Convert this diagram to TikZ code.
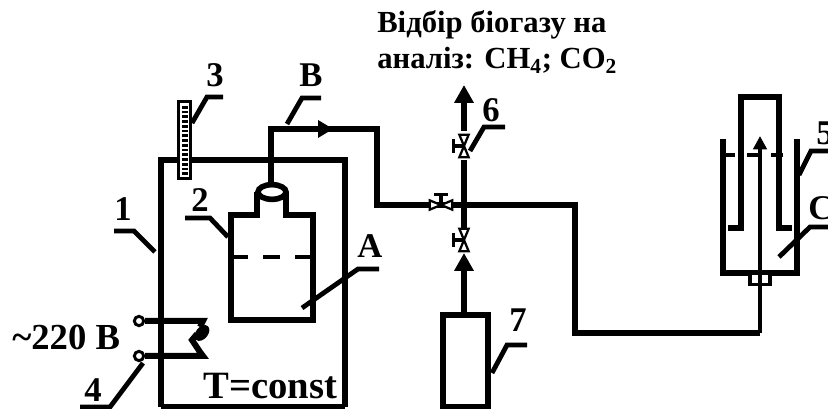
\documentclass[tikz,border=0pt]{standalone}
\usepackage{fontspec}
\setmainfont{Liberation Serif}
\usepackage{tikz}
\usetikzlibrary{arrows.meta,positioning,calc,shapes.geometric}

\tikzset{
    wall/.style={line width=4.5pt, line cap=butt, line join=miter},
    leader/.style={line width=3.6pt, line join=miter},
    thinwall/.style={line width=3.4pt, line join=miter},
    tag/.style={font=\bfseries\fontsize{26}{26}\selectfont, inner sep=0pt, anchor=base},
    bigtag/.style={font=\bfseries\fontsize{29}{29}\selectfont, inner sep=0pt, anchor=base west},
    caption/.style={font=\bfseries\fontsize{23}{26}\selectfont, inner sep=0pt, anchor=base west},
    flow/.style={line width=4.5pt, -{Triangle[length=13.5pt, width=14pt]}},
    contact/.style={draw, circle, line width=2.2pt, fill=white, minimum size=7pt, inner sep=0pt}
}
% one valve: two small triangles with a handle
\tikzset{
    valve/.pic={
      \draw[line width=1.7pt, fill=white, line join=miter] (-8.5pt,-3.5pt) -- (8.5pt,3.5pt) -- (8.5pt,-3.5pt) -- (-8.5pt,3.5pt) -- cycle;
      \draw[line width=2.4pt] (0,0) -- (0,8pt);
      \draw[line width=2.4pt] (-5pt,8pt) -- (5pt,8pt);
    }
}

\begin{document}
\begin{tikzpicture}[x=0.75pt, y=-0.75pt]
    \clip (0,0) rectangle (828,409);
    \useasboundingbox (0,0) rectangle (828,409);

    % thermostat
    \coordinate (t1) at (161,407);
    \coordinate (t2) at (161,160);
    \coordinate (t3) at (345,160);
    \coordinate (t4) at (345,407);
    \draw[wall] (t1) -- (t2) -- (t3) -- (t4);
    \draw[wall] (t1) -- (t4);
    \node[tag] (l1) at (123,221) {1};
    \node[bigtag] (ltc) at (203,398) {T=const};

    % reactor
    \coordinate (r1) at (257,215);
    \coordinate (r2) at (231,215);
    \coordinate (r3) at (231,320);
    \coordinate (r4) at (313,320);
    \coordinate (r5) at (313,215);
    \coordinate (r6) at (286,215);
    \coordinate (r7) at (257,192);
    \coordinate (r8) at (286,192);
    \coordinate (s1) at (231,257);
    \coordinate (s2) at (313,257);
    \draw[wall] (r7) -- (r1) -- (r2) -- (r3) -- (r4) -- (r5) -- (r6) -- (r8);
    \draw[thinwall, dash pattern=on 12.75pt off 11.25pt] (s1) -- (s2);
    \node[draw, ellipse, line width=4.2pt, fill=white, minimum width=21pt, minimum height=11pt, inner sep=0pt] (neck) at (272,192) {};
    \node[tag] (l2) at (200,212) {2};
    \node[tag] (lA) at (370,258) {А};

    % gas line
    \coordinate (p1) at (271,129);
    \coordinate (p2) at (377,129);
    \coordinate (p3) at (377,205);
    \coordinate (p4) at (575,205);
    \coordinate (p5) at (575,333);
    \coordinate (p6) at (760,333);
    \draw[wall] (neck.north -| p1) -- (p1) -- (p2) -- (p3) -- (p4) -- (p5) -- (p6);
    \fill (318,120) -- (333,129) -- (318,138) -- cycle;
    \node[tag] (lB) at (311,87) {В};

    % thermometer
    \node[draw, line width=1.8pt, fill=white, minimum width=9pt, minimum height=58pt, inner sep=0pt] (therm) at (184.5,140) {};
    \foreach \i in {0,...,14}
      \fill (181.5,{106+\i*4.75}) rectangle (187.5,{108.6+\i*4.75});
    \node[tag] (l3) at (215,87) {3};

    % heater with contact
    \node[contact] (c1) at (139,321) {};
    \node[contact] (c2) at (139,356) {};
    \coordinate (h1) at (203,321);
    \coordinate (h2) at (203,356);
    \draw[wall] (c1) -- (h1) -- ++(-3,6);
    \draw[wall] (c2) -- (h2) -- ++(-3,-4) -- ++(-8,-12) -- ++(5,-6);
    \fill[rotate around={50:(202,333)}] (202,333) ellipse (9 and 6);
    \node[bigtag, font=\bfseries\fontsize{27.5}{28}\selectfont] (l220) at (12,350) {\textasciitilde 220 В};
    \node[tag] (l4) at (93,402) {4};

    % sampling branch
    \coordinate (j) at (464,205);
    \coordinate (top) at (464,85);
    \coordinate (v6a) at (464,131);
    \coordinate (v6b) at (464,160);
    \coordinate (v7a) at (464,228);
    \draw[flow] (v6a) -- (top);
    \draw[wall] (v6b) -- (j) -- (v7a);
    \pic[rotate=90] at (464,146) {valve};
    \pic at (441,205) {valve};
    \pic[rotate=90] at (464,240) {valve};
    \node[tag] (l6) at (491,122) {6};
    \node[caption] (lhead) at (377,33) {Відбір біогазу на};
    \node[caption] (lhead2) at (377,69) {аналіз: CH\textsubscript{4}; CO\textsubscript{2}};

    % gas cylinder
    \node[draw, line width=4.5pt, minimum width=34pt, minimum height=69pt, inner sep=0pt] (cyl) at (465.5,361) {};
    \coordinate (v7top) at (464,253);
    \draw[flow] (cyl.north -| v7top) -- (v7top);
    \node[tag] (l7) at (518,332) {7};

    % gas holder
    \coordinate (g1) at (723,139);
    \coordinate (g2) at (723,273);
    \coordinate (g3) at (797,273);
    \coordinate (g4) at (797,139);
    \coordinate (g5) at (723,155);
    \coordinate (g6) at (797,155);
    \draw[wall] (g1) -- (g2) -- (g3) -- (g4);
    \draw[line width=2.5pt, dash pattern=on 9pt off 9pt] (g5) -- (g6);
    \coordinate (b1) at (728,228);
    \coordinate (b2) at (741,228);
    \coordinate (b3) at (741,97);
    \coordinate (b4) at (779,97);
    \coordinate (b5) at (779,228);
    \coordinate (b6) at (792,228);
    \draw[wall] (b1) -- (b2) -- (b3) -- (b4) -- (b5) -- (b6);
    \node[draw, line width=2.5pt, fill=white, minimum width=15pt, minimum height=8pt, inner sep=0pt] (fit) at (760,279) {};
    \coordinate (tip) at (760,136);
    \draw[line width=3pt, -{Triangle[length=10pt, width=10pt]}] (p6) -- (tip);
    \node[tag, anchor=base west] (l5) at (816,145) {5};
    \node[tag, anchor=base west] (lC) at (808,220) {С};

    % leaders
    \draw[leader] (114,231) -- (134,231) -- (155,252);
    \draw[leader] (185,218) -- (210,218) -- (228,237);
    \draw[leader] (192,123) -- (207,97) -- (223,97);
    \draw[leader] (287,124) -- (302,98) -- (321,98);
    \draw[leader] (302,308) -- (358,269) -- (379,269);
    \draw[leader] (143,363) -- (110,407) -- (80,407);
    \draw[leader] (470,151) -- (484,127) -- (505,127);
    \draw[leader] (492,373) -- (507,345) -- (527,345);
    \draw[leader] (799,175) -- (811,151) -- (828,151);
    \draw[leader] (779,257) -- (810,227) -- (828,227);
\end{tikzpicture}
\end{document}
